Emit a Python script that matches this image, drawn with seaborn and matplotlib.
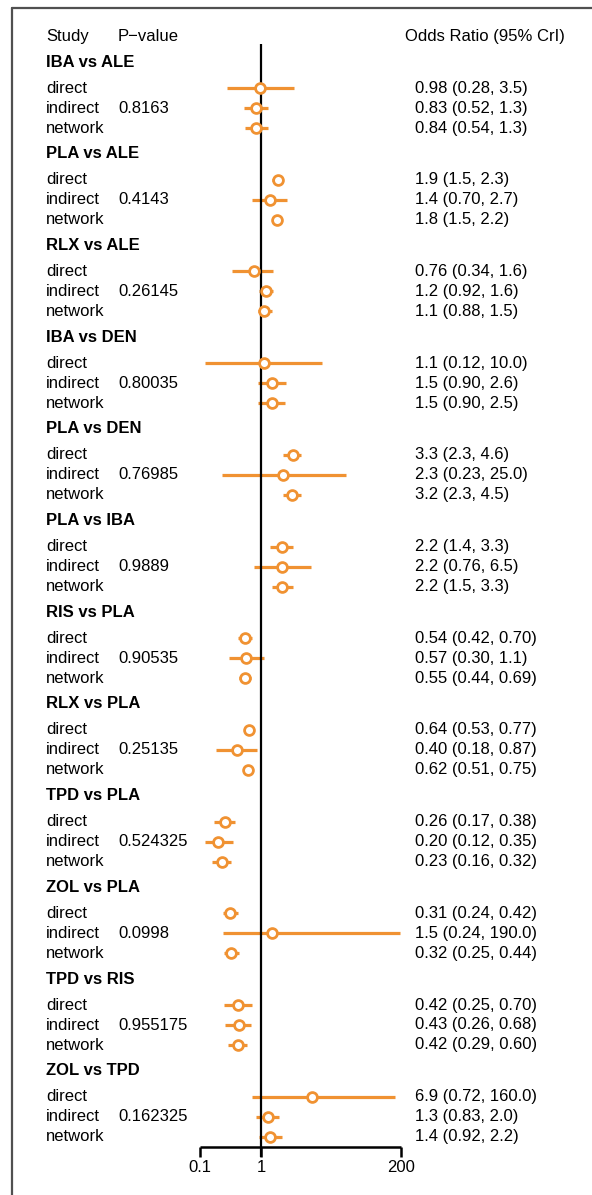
import numpy as np
import pandas as pd
import matplotlib
matplotlib.use("Agg")
import matplotlib.pyplot as plt
import matplotlib.transforms as mtransforms
from matplotlib.lines import Line2D
import seaborn as sns

# ---- data -------------------------------------------------------------
comparisons = ["IBA vs ALE", "PLA vs ALE", "RLX vs ALE", "IBA vs DEN",
               "PLA vs DEN", "PLA vs IBA", "RIS vs PLA", "RLX vs PLA",
               "TPD vs PLA", "ZOL vs PLA", "TPD vs RIS", "ZOL vs TPD"]
evidence = ["direct", "indirect", "network"]
p_values = ["0.8163", "0.4143", "0.26145", "0.80035", "0.76985", "0.9889",
            "0.90535", "0.25135", "0.524325", "0.0998", "0.955175", "0.162325"]

direct_or = [0.98, 1.9, 0.76, 1.1, 3.3, 2.2, 0.54, 0.64, 0.26, 0.31, 0.42, 6.9]
direct_lo = [0.28, 1.5, 0.34, 0.12, 2.3, 1.4, 0.42, 0.53, 0.17, 0.24, 0.25, 0.72]
direct_hi = [3.5, 2.3, 1.6, 10.0, 4.6, 3.3, 0.70, 0.77, 0.38, 0.42, 0.70, 160.0]

indirect_or = [0.83, 1.4, 1.2, 1.5, 2.3, 2.2, 0.57, 0.40, 0.20, 1.5, 0.43, 1.3]
indirect_lo = [0.52, 0.70, 0.92, 0.90, 0.23, 0.76, 0.30, 0.18, 0.12, 0.24, 0.26, 0.83]
indirect_hi = [1.3, 2.7, 1.6, 2.6, 25.0, 6.5, 1.1, 0.87, 0.35, 190.0, 0.68, 2.0]

network_or = [0.84, 1.8, 1.1, 1.5, 3.2, 2.2, 0.55, 0.62, 0.23, 0.32, 0.42, 1.4]
network_lo = [0.54, 1.5, 0.88, 0.90, 2.3, 1.5, 0.44, 0.51, 0.16, 0.25, 0.29, 0.92]
network_hi = [1.3, 2.2, 1.5, 2.5, 4.5, 3.3, 0.69, 0.75, 0.32, 0.44, 0.60, 2.2]

tick_values = [0.1, 1, 200]
tick_labels = ["0.1", "1", "200"]


def fmt(v):
    """Two significant digits, at least one decimal place."""
    if v >= 10:
        return f"{v:.1f}"
    dec = max(1, 1 - int(np.floor(np.log10(v))))
    return f"{v:.{dec}f}"


# ---- layout (vertical positions in pixel-like units from the top) -------
W, H = 592, 1195
HEADER_Y = 36
GROUP_TOP = 62
GROUP_STEP = 91.7
ROW_OFFSETS = [26, 46, 66]
AXIS_Y = 1147

rows = []
for g, comp in enumerate(comparisons):
    y0 = GROUP_TOP + g * GROUP_STEP
    est = [direct_or[g], indirect_or[g], network_or[g]]
    lo = [direct_lo[g], indirect_lo[g], network_lo[g]]
    hi = [direct_hi[g], indirect_hi[g], network_hi[g]]
    for k, ev in enumerate(evidence):
        rows.append(dict(comparison=comp, evidence=ev, est=est[k], lo=lo[k],
                         hi=hi[k], y=y0 + ROW_OFFSETS[k],
                         p=p_values[g] if ev == "indirect" else ""))
df = pd.DataFrame(rows)

# ---- figure -----------------------------------------------------------
sns.set_style("white")
plt.rcParams["font.family"] = ["Liberation Sans", "DejaVu Sans"]
plt.rcParams["font.size"] = 12
plt.rcParams["text.color"] = "black"

fig = plt.figure(figsize=(W / 100, H / 100), dpi=100)
ax = fig.add_axes([0, 0, 1, 1])
ax.set_xscale("log")
# 61 px per decade, x=1 at px 261
px_per_dec = 61.0
x_one = 261.0
xlim = (10 ** (-x_one / px_per_dec), 10 ** ((W - x_one) / px_per_dec))

orange = "#F09232"

# confidence intervals
ax.hlines(df["y"], df["lo"], df["hi"], color=orange, lw=2.3, zorder=2)
# reference line at OR = 1
ax.vlines(1, 44, AXIS_Y + 10, color="black", lw=1.6, zorder=3)
# point estimates
sns.scatterplot(data=df, x="est", y="y", ax=ax, marker="o", s=50,
                facecolor="white", edgecolor=orange, linewidth=2.0,
                zorder=4, legend=False)
ax.set_xlim(*xlim)
ax.set_ylim(H, 0)
ax.axis("off")

# bottom axis
ax.hlines(AXIS_Y, tick_values[0], tick_values[-1], color="black", lw=1.8,
          zorder=3)
for tv, tl in zip(tick_values, tick_labels):
    ax.vlines(tv, AXIS_Y, AXIS_Y + 10, color="black", lw=1.8, zorder=3)
    ax.text(tv, AXIS_Y + 21, tl, ha="center", va="center", fontsize=12,
            color="black")

# text columns
blend = mtransforms.blended_transform_factory(ax.transAxes, ax.transData)
X_LABEL, X_P, X_VAL, X_HEAD = 46 / W, 118 / W, 415 / W, 405 / W
tkw = dict(transform=blend, va="center", color="black")

ax.text(X_LABEL, HEADER_Y, "Study", **tkw)
ax.text(X_P, HEADER_Y, "P\u2212value", **tkw)
ax.text(X_HEAD, HEADER_Y, "Odds Ratio (95% CrI)", **tkw)

for g, comp in enumerate(comparisons):
    ax.text(X_LABEL, GROUP_TOP + g * GROUP_STEP, comp, fontweight="bold",
            **tkw)

for _, r in df.iterrows():
    ax.text(X_LABEL, r["y"], r["evidence"], **tkw)
    if r["p"]:
        ax.text(X_P, r["y"], r["p"], **tkw)
    ax.text(X_VAL, r["y"],
            f"{fmt(r['est'])} ({fmt(r['lo'])}, {fmt(r['hi'])})", **tkw)

# outer frame (left and top edges within the canvas)
frame_kw = dict(color="#505050", lw=1.6, transform=fig.transFigure)
fig.add_artist(Line2D([12 / W, 12 / W], [0, 1 - 7.5 / H], **frame_kw))
fig.add_artist(Line2D([12 / W, 1.0], [1 - 7.5 / H, 1 - 7.5 / H],
                      **frame_kw))

fig.savefig("out.png", dpi=100, facecolor="white")
